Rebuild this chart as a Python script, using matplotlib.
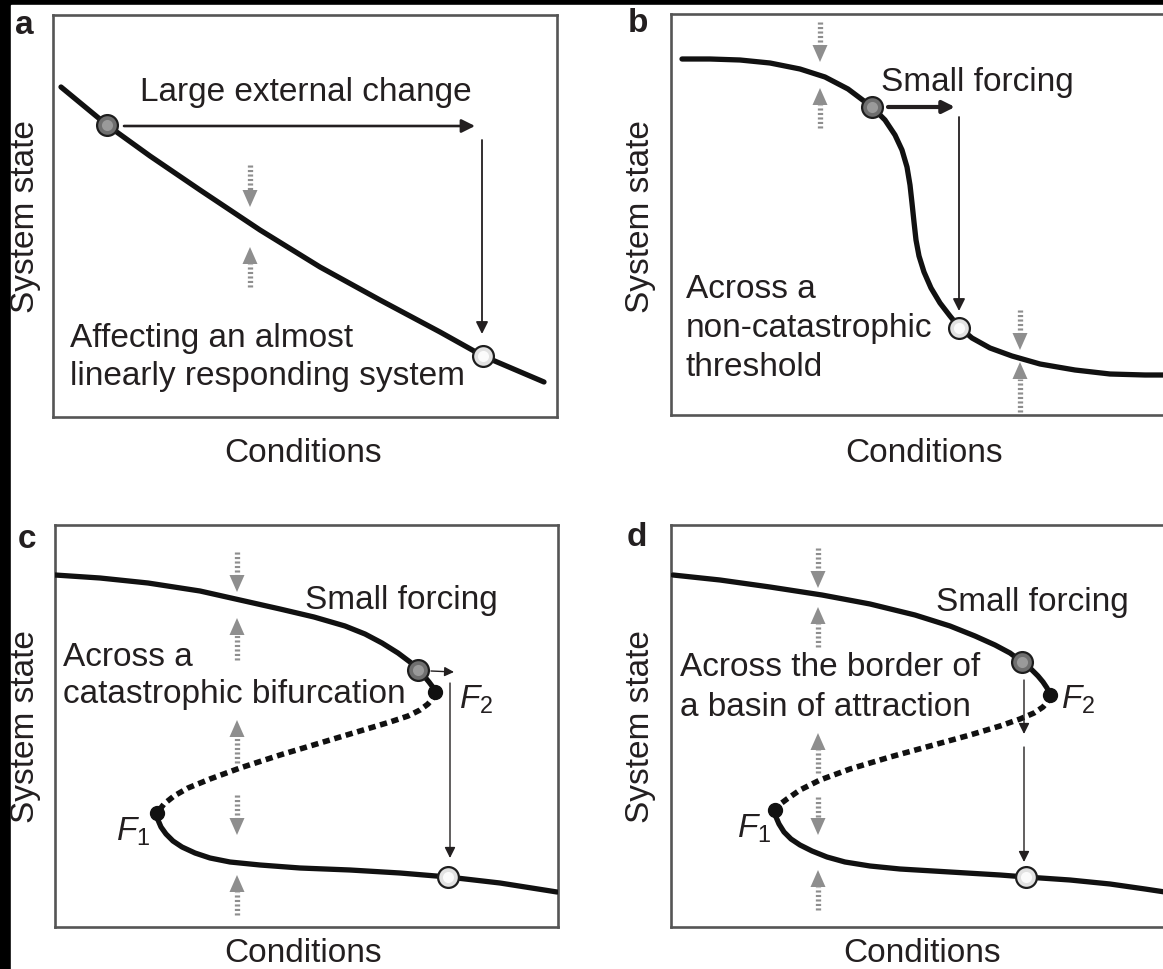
#!/usr/bin/env python3

import matplotlib

matplotlib.use("Agg")

import matplotlib.pyplot as plt
from matplotlib.patches import Rectangle


W, H = 1163, 969
INK = "#231f20"
GRAY = "#8e8e8e"
FRAME = "#555555"

plt.rcParams["font.family"] = ["Liberation Sans", "DejaVu Sans"]
plt.rcParams["mathtext.fontset"] = "custom"
plt.rcParams["mathtext.it"] = "Liberation Sans:italic"
plt.rcParams["mathtext.rm"] = "Liberation Sans"

# Values, in picture pixel units (x right, y down).

# panel a: almost linear response
A_CURVE_X = [61, 107, 150, 200, 260, 320, 380, 440, 483, 544]
A_CURVE_Y = [87, 125, 156, 190, 230, 267, 300, 332, 356, 382]
A_START = (107, 125)
A_END = (483, 356)
A_PUSH = [(124, 126), (475, 126)]
A_DROP = [(482, 140), (482, 334)]
A_GRAY = [(250, 165, 207), (250, 287, 247)]

# panel b: non-catastrophic threshold
B_CURVE_X = [682, 710, 740, 770, 800, 825, 848, 872, 885, 895, 902, 907, 910,
             912, 914, 916, 919, 924, 931, 940, 950, 959, 972, 990, 1012, 1040,
             1075, 1110, 1145, 1185]
B_CURVE_Y = [59, 59, 60, 63, 69, 77, 89, 107, 120, 135, 150, 167, 185,
             203, 222, 240, 256, 272, 288, 303, 316, 327, 338, 348, 356, 364,
             370, 374, 375, 375]
B_START = (872, 107)
B_END = (959, 328)
B_PUSH = [(888, 107), (955, 107)]
B_DROP = [(959, 117), (959, 311)]
B_GRAY = [(820, 22, 62), (820, 128, 88), (1020, 310, 350), (1020, 412, 362)]

# panel c: catastrophic bifurcation
C_UP_X = [55, 100, 148, 200, 240, 280, 314, 345, 365, 382, 398, 410, 418,
          424, 429, 432, 434, 435]
C_UP_Y = [575, 578, 583, 591, 600, 609, 617, 626, 634, 643, 653, 662, 670,
          676, 682, 686, 689, 692]
C_MID_X = [435, 433, 428, 420, 408, 390, 360, 320, 280, 240, 210, 188, 174, 164, 157]
C_MID_Y = [692, 698, 704, 710, 716, 722, 731, 743, 755, 768, 779, 788, 796, 804, 813]
C_LO_X = [157, 158, 161, 166, 173, 182, 195, 210, 230, 260, 300, 350, 400, 448, 500, 557]
C_LO_Y = [813, 820, 827, 834, 841, 847, 853, 858, 862, 865, 868, 870, 873, 877, 883, 892]
C_START = (418, 670)
C_END = (448, 877)
C_F = [(435, 692), (157, 813)]
C_PUSH = [(431, 671), (454, 672)]
C_DROP = [(450, 683), (450, 858)]
C_GRAY = [(237, 552, 592), (237, 660, 618), (237, 763, 720),
          (237, 795, 835), (237, 915, 875)]

# panel d: border of a basin of attraction
D_UP_X = [673, 720, 770, 822, 870, 915, 950, 975, 995, 1010, 1022, 1031,
          1038, 1043, 1047, 1049, 1050]
D_UP_Y = [575, 580, 587, 595, 604, 615, 626, 636, 645, 653, 662, 669,
          676, 682, 688, 692, 695]
D_MID_X = [1050, 1048, 1043, 1034, 1020, 1000, 970, 930, 890, 850, 820, 800, 787, 779, 775]
D_MID_Y = [695, 701, 707, 713, 719, 726, 735, 746, 757, 769, 780, 790, 799, 805, 810]
D_LO_X = [775, 776, 779, 784, 791, 800, 812, 827, 845, 870, 900, 950, 1000,
          1026, 1070, 1110, 1145, 1185]
D_LO_Y = [810, 817, 824, 832, 839, 845, 851, 857, 862, 866, 869, 872, 875,
          877, 880, 884, 889, 895]
D_START = (1022, 662)
D_END = (1026, 877)
D_F = [(1050, 695), (775, 810)]
D_DROPS = [[(1024, 680), (1024, 734)], [(1024, 747), (1024, 862)]]
D_GRAY = [(818, 548, 588), (818, 647, 607), (818, 773, 733),
          (818, 797, 835), (818, 910, 870)]


def fig_xy(x, y):
    return x / W, 1 - y / H


def add_panel(fig, left, right, top, bottom):
    ax = fig.add_axes([left / W, 1 - bottom / H, (right - left) / W, (bottom - top) / H])
    ax.set_xlim(left, right)
    ax.set_ylim(bottom, top)
    ax.set_xticks([])
    ax.set_yticks([])
    for spine in ax.spines.values():
        spine.set_color(FRAME)
        spine.set_linewidth(1.9)
    return ax


def gray_arrow(ax, x, tail, tip):
    step = 1 if tip > tail else -1
    base = tip - step * 17
    ax.plot([x, x], [tail, base], color=GRAY, lw=3.8,
            linestyle=(0, (0.4, 0.45)), solid_capstyle="butt", zorder=2)
    ax.fill([x - 7.5, x + 7.5, x], [base, base, tip], color=GRAY, lw=0, zorder=2)


def black_arrow(ax, tail, tip, lw=1.2, scale=18):
    ax.annotate("", xy=tip, xytext=tail,
                arrowprops=dict(arrowstyle="-|>", color=INK, lw=lw,
                                mutation_scale=scale, shrinkA=0, shrinkB=0),
                zorder=3)


def states(ax, start, end):
    # shaded balls: darker rim, lighter centre
    ax.plot(*start, "o", ms=15, mfc="#6f6f6f", mec="#1e1e1e", mew=1.6, zorder=5)
    ax.plot(*start, "o", ms=8, mfc="#9a9a9a", mew=0, zorder=6)
    ax.plot(*end, "o", ms=15, mfc="#e2e2e2", mec="#1e1e1e", mew=1.6, zorder=5)
    ax.plot(*end, "o", ms=8, mfc="#fbfbfb", mew=0, zorder=6)


def folds(ax, points):
    for x, y in points:
        ax.plot(x, y, "o", ms=10, color="#111111", zorder=4)


def label_text(ax, x, y, text, **kw):
    ax.text(x, y, text, fontsize=24, color=INK, va="center", **kw)


fig = plt.figure(figsize=(W / 100, H / 100), dpi=100)
fig.patch.set_facecolor("black")
fig.add_artist(Rectangle(fig_xy(11, H), (W - 11) / W, (H - 5) / H,
                         transform=fig.transFigure, color="white", zorder=-10))

curve = dict(color="#111111", lw=3.8, solid_capstyle="round",
             solid_joinstyle="round", zorder=3)
dashed = dict(color="#111111", lw=4.0, linestyle=(0, (1.3, 0.85)), zorder=3)

# a
ax = add_panel(fig, 53, 557, 15, 417)
ax.plot(A_CURVE_X, A_CURVE_Y, **curve)
black_arrow(ax, *A_PUSH, lw=1.9, scale=20)
black_arrow(ax, *A_DROP, lw=1.3, scale=18)
for arrow in A_GRAY:
    gray_arrow(ax, *arrow)
states(ax, A_START, A_END)
label_text(ax, 306, 93, "Large external change", ha="center")
label_text(ax, 70, 338, "Affecting an almost", ha="left")
label_text(ax, 70, 377, "linearly responding system", ha="left")

# b
ax = add_panel(fig, 671, 1185, 14, 415)
ax.plot(B_CURVE_X, B_CURVE_Y, **curve)
black_arrow(ax, *B_PUSH, lw=3.0, scale=18)
black_arrow(ax, *B_DROP, lw=1.3, scale=18)
for arrow in B_GRAY:
    gray_arrow(ax, *arrow)
states(ax, B_START, B_END)
label_text(ax, 977, 82, "Small forcing", ha="center")
label_text(ax, 686, 290, "Across a", ha="left")
label_text(ax, 686, 328, "non-catastrophic", ha="left")
label_text(ax, 686, 367, "threshold", ha="left")

# c
ax = add_panel(fig, 55, 558, 525, 927)
ax.plot(C_UP_X, C_UP_Y, **curve)
ax.plot(C_MID_X, C_MID_Y, **dashed)
ax.plot(C_LO_X, C_LO_Y, **curve)
folds(ax, C_F)
black_arrow(ax, *C_PUSH, lw=1.0, scale=14)
black_arrow(ax, *C_DROP, lw=1.0, scale=16)
for arrow in C_GRAY:
    gray_arrow(ax, *arrow)
states(ax, C_START, C_END)
label_text(ax, 401, 600, "Small forcing", ha="center")
label_text(ax, 63, 657, "Across a", ha="left")
label_text(ax, 63, 695, "catastrophic bifurcation", ha="left")
label_text(ax, 459, 700, "$F_2$", ha="left")
label_text(ax, 150, 832, "$F_1$", ha="right")

# d
ax = add_panel(fig, 671, 1185, 525, 927)
ax.plot(D_UP_X, D_UP_Y, **curve)
ax.plot(D_MID_X, D_MID_Y, **dashed)
ax.plot(D_LO_X, D_LO_Y, **curve)
folds(ax, D_F)
for drop in D_DROPS:
    black_arrow(ax, *drop, lw=1.0, scale=16)
for arrow in D_GRAY:
    gray_arrow(ax, *arrow)
states(ax, D_START, D_END)
label_text(ax, 1032, 603, "Small forcing", ha="center")
label_text(ax, 680, 668, "Across the border of", ha="left")
label_text(ax, 680, 708, "a basin of attraction", ha="left")
label_text(ax, 1061, 700, "$F_2$", ha="left")
label_text(ax, 771, 829, "$F_1$", ha="right")

# panel letters and axis titles
for letter, x, y in [("a", 24, 25), ("b", 638, 23), ("c", 27, 540), ("d", 637, 538)]:
    fig.text(*fig_xy(x, y), letter, fontsize=24, fontweight="bold",
             color=INK, ha="center", va="center")
for x, y in [(26, 217), (641, 217), (26, 727), (641, 727)]:
    fig.text(*fig_xy(x, y), "System state", fontsize=24, color=INK,
             rotation=90, ha="center", va="center")
for x, y in [(303, 453), (924, 453), (303, 953), (922, 953)]:
    fig.text(*fig_xy(x, y), "Conditions", fontsize=24, color=INK,
             ha="center", va="center")

fig.savefig("out.png", dpi=100, facecolor=fig.get_facecolor())
